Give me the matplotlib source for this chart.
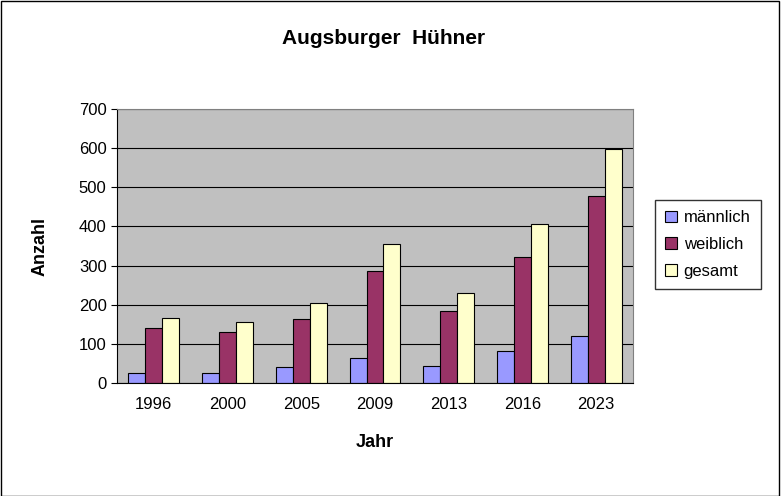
import matplotlib
matplotlib.use("Agg")
import matplotlib.pyplot as plt
import numpy as np

years = ["1996", "2000", "2005", "2009", "2013", "2016", "2023"]
maennlich = [26, 26, 41, 64, 43, 82, 120]
weiblich = [140, 130, 163, 286, 184, 322, 478]
gesamt = [166, 156, 204, 355, 230, 406, 598]

plt.rcParams['font.family'] = ['Liberation Sans', 'DejaVu Sans']
fig = plt.figure(figsize=(7.81, 4.96), dpi=100)
fig.patch.set_facecolor('white')
fig.add_artist(plt.Rectangle((0.001, 0.001), 0.997, 0.997, transform=fig.transFigure,
                             fill=False, edgecolor='black', lw=1))
ax = fig.add_axes([117/781, 1-383/496, (633-117)/781, (383-109)/496])
ax.set_facecolor('#C0C0C0')
x = np.arange(len(years))
w = 0.23
ax.bar(x - w, maennlich, w, color='#9999FF', edgecolor='black', lw=0.8, label='männlich')
ax.bar(x, weiblich, w, color='#993366', edgecolor='black', lw=0.8, label='weiblich')
ax.bar(x + w, gesamt, w, color='#FFFFCC', edgecolor='black', lw=0.8, label='gesamt')
ax.set_xlim(-0.5, len(years) - 0.5)
ax.set_ylim(0, 700)
ax.set_yticks(range(0, 701, 100))
ax.grid(axis='y', color='black', lw=0.8)
ax.set_axisbelow(True)
ax.set_xticks(x)
ax.set_xticklabels(years)
ax.tick_params(labelsize=12, direction='out', length=4)
ax.tick_params(axis='x', length=0, pad=10)
for s in ax.spines.values():
    s.set_color('#808080')
ax.spines['bottom'].set_color('black')
ax.spines['left'].set_color('black')
ax.set_xlabel('Jahr', fontsize=13, fontweight='bold', labelpad=16)
ax.set_ylabel('Anzahl', fontsize=13, fontweight='bold', labelpad=22)
fig.text(384/781, 1-38/496, 'Augsburger  Hühner', ha='center', va='center',
         fontsize=15, fontweight='bold')
leg = fig.legend(loc='upper left', bbox_to_anchor=(647/781, 1-192/496), fontsize=12,
                 frameon=True, fancybox=False, edgecolor='black', handlelength=0.7,
                 handleheight=0.7, borderpad=0.6, labelspacing=0.7, handletextpad=0.4)
leg.get_frame().set_linewidth(1)
fig.savefig('out.png', dpi=100)
